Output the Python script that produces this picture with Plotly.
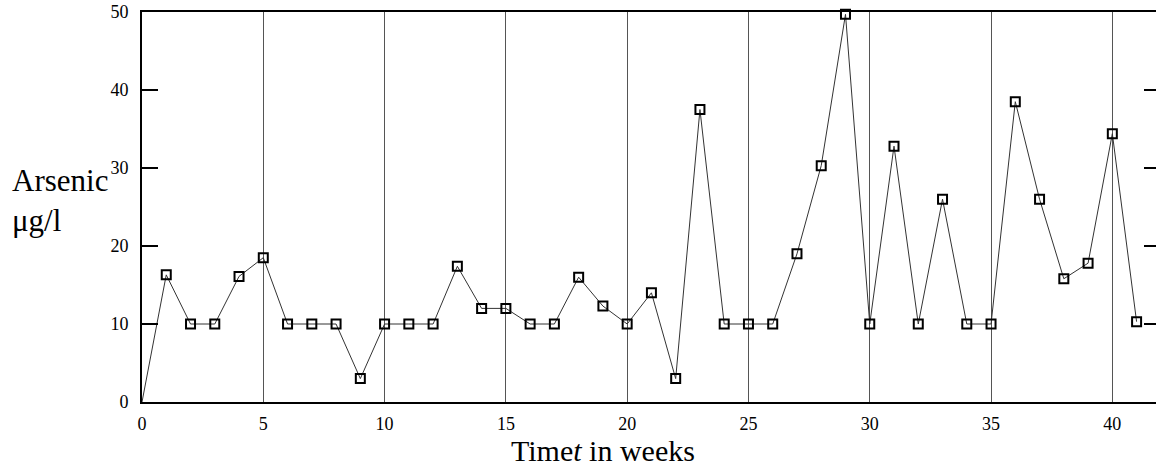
import plotly.graph_objects as go

weeks = list(range(0, 42))
arsenic = [0, 16.3, 10, 10, 16.1, 18.5, 10, 10, 10, 3, 10,
           10, 10, 17.4, 12, 12, 10, 10, 16, 12.3, 10,
           14, 3, 37.5, 10, 10, 10, 19, 30.3, 49.7, 10,
           32.8, 10, 26, 10, 10, 38.5, 26, 15.8, 17.8, 34.4, 10.3]
x_ticks = [0, 5, 10, 15, 20, 25, 30, 35, 40]
y_ticks = [0, 10, 20, 30, 40, 50]
right_ticks = [10, 20, 30, 40]

serif = "Liberation Serif"

fig = go.Figure()
fig.add_trace(go.Scatter(
    x=weeks, y=arsenic, mode="lines",
    line=dict(color="#333333", width=1),
    showlegend=False, hoverinfo="skip", cliponaxis=False))
fig.add_trace(go.Scatter(
    x=weeks[1:], y=arsenic[1:], mode="markers",
    marker=dict(symbol="square-open", size=9, color="black",
                line=dict(color="black", width=2)),
    showlegend=False, cliponaxis=False))
fig.add_trace(go.Scatter(x=[None], y=[None], yaxis="y2", showlegend=False))

fig.update_layout(
    width=1156, height=469,
    margin=dict(l=142, r=0, t=12, b=67),
    paper_bgcolor="white", plot_bgcolor="white",
    font=dict(family=serif, color="black", size=18),
    xaxis=dict(range=[0, 41.8], tickvals=x_ticks, ticktext=[str(v) for v in x_ticks],
               showgrid=True, gridcolor="#555555", gridwidth=1,
               showline=True, linecolor="black", linewidth=2, mirror=True,
               ticks="", zeroline=False, ticklabelstandoff=4,
               tickfont=dict(size=18, family=serif, color="black")),
    yaxis=dict(range=[0, 50], tickvals=y_ticks, showgrid=False,
               showline=True, linecolor="black", linewidth=2,
               ticks="inside", ticklen=16, tickwidth=2, tickcolor="black",
               zeroline=False, ticklabelstandoff=8,
               tickfont=dict(size=18, family=serif, color="black")),
    yaxis2=dict(range=[0, 50], overlaying="y", side="right", tickvals=right_ticks,
                showticklabels=False, showgrid=False, showline=False, zeroline=False,
                ticks="inside", ticklen=12, tickwidth=2, tickcolor="black"),
)

fig.add_annotation(text="Arsenic<br>μg/l", xref="paper", yref="paper",
                   x=-0.13, y=0.618, xanchor="left", yanchor="top", align="left",
                   showarrow=False, font=dict(size=31, family=serif, color="black"))
fig.add_annotation(text="Time<i>t</i> in weeks", xref="paper", yref="paper",
                   x=0.4546, y=-0.172, xanchor="center", yanchor="bottom",
                   showarrow=False, font=dict(size=30, family=serif, color="black"))

fig.write_html("out.html")
